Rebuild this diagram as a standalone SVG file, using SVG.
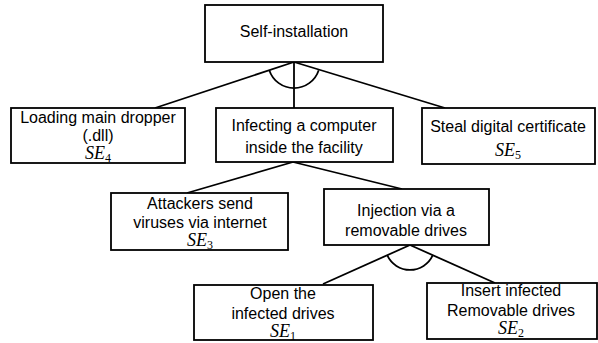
<svg xmlns="http://www.w3.org/2000/svg" width="598" height="343" viewBox="0 0 598 343">
<style>
.box{fill:#fff;stroke:#000;stroke-width:1.8}
.ln{fill:none;stroke:#000;stroke-width:1.8}
.t{font-family:"Liberation Sans",Arial,sans-serif;font-size:16px;fill:#000;text-anchor:middle;dominant-baseline:central}
.m{font-family:"Liberation Serif","Times New Roman",serif;font-size:18px;font-style:italic;fill:#000;text-anchor:middle}
.s{font-style:normal;font-size:12px}
</style>
<rect width="598" height="343" fill="#fff"/>
<g id="connectors">
<line class="ln" x1="294" y1="62" x2="155" y2="108"/>
<line class="ln" x1="294" y1="62" x2="294" y2="108"/>
<line class="ln" x1="294" y1="62" x2="445" y2="108"/>
<path class="ln" d="M269.3,70.2 A26,26 0 0 0 318.7,70.2"/>
<line class="ln" x1="293" y1="162" x2="187" y2="193"/>
<line class="ln" x1="293" y1="162" x2="402" y2="189"/>
<line class="ln" x1="410" y1="245" x2="323" y2="284"/>
<line class="ln" x1="410" y1="245" x2="495" y2="283"/>
<path class="ln" d="M387.2,255.2 A25,25 0 0 0 432.8,255.2"/>
</g>
<g id="self-installation">
<rect class="box" x="205" y="5" width="178" height="57"/>
<text class="t" x="294" y="31">Self-installation</text>
</g>
<g id="loading-dropper">
<rect class="box" x="11" y="108" width="174" height="55"/>
<text class="t" x="98" y="117">Loading main dropper</text>
<text class="t" x="98" y="135">(.dll)</text>
<text class="m" x="98" y="159">SE<tspan class="s" dy="3">4</tspan></text>
</g>
<g id="infecting-computer">
<rect class="box" x="216" y="108" width="177" height="54"/>
<text class="t" x="304" y="125">Infecting a computer</text>
<text class="t" x="304" y="147">inside the facility</text>
</g>
<g id="steal-certificate">
<rect class="box" x="422" y="108" width="173" height="56"/>
<text class="t" x="508" y="126">Steal digital certificate</text>
<text class="m" x="508" y="156">SE<tspan class="s" dy="3">5</tspan></text>
</g>
<g id="attackers-send">
<rect class="box" x="111" y="193" width="177" height="57"/>
<text class="t" x="200" y="203">Attackers send</text>
<text class="t" x="200" y="222">viruses via internet</text>
<text class="m" x="200" y="246">SE<tspan class="s" dy="3">3</tspan></text>
</g>
<g id="injection">
<rect class="box" x="324" y="189" width="165" height="56"/>
<text class="t" x="406" y="210">Injection via a</text>
<text class="t" x="406" y="230">removable drives</text>
</g>
<g id="open-drives">
<rect class="box" x="194" y="285" width="179" height="55"/>
<text class="t" x="283" y="293">Open the</text>
<text class="t" x="283" y="313">infected drives</text>
<text class="m" x="283" y="337">SE<tspan class="s" dy="3">1</tspan></text>
</g>
<g id="insert-drives">
<rect class="box" x="427" y="283" width="170" height="56"/>
<text class="t" x="511" y="290">Insert infected</text>
<text class="t" x="511" y="310">Removable drives</text>
<text class="m" x="511" y="334">SE<tspan class="s" dy="3">2</tspan></text>
</g>
</svg>
